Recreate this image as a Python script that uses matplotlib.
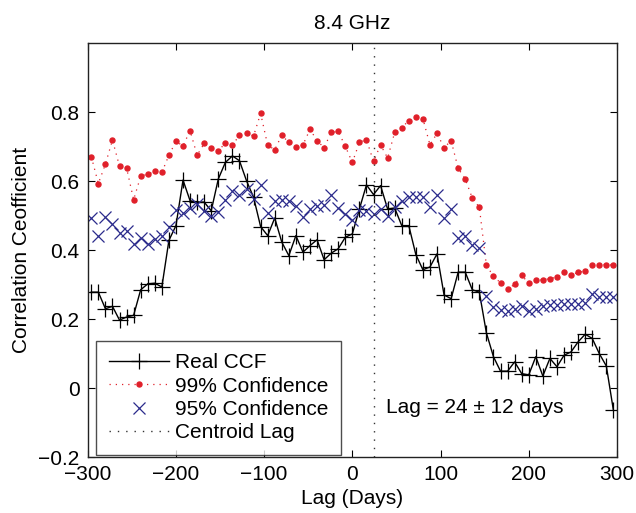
import numpy as np
import matplotlib
matplotlib.use("Agg")
import matplotlib.pyplot as plt

plt.rcParams['font.family'] = ['Liberation Sans', 'DejaVu Sans']

lags = list(range(-296, 297, 8))

real_ccf = [0.278, 0.278, 0.230, 0.237, 0.197, 0.206, 0.211, 0.285, 0.302, 0.304,
            0.293, 0.428, 0.471, 0.603, 0.543, 0.539, 0.539, 0.514, 0.606, 0.654,
            0.673, 0.659, 0.601, 0.553, 0.468, 0.442, 0.493, 0.423, 0.384, 0.442,
            0.394, 0.413, 0.430, 0.372, 0.391, 0.404, 0.437, 0.447, 0.519, 0.589,
            0.561, 0.587, 0.519, 0.522, 0.471, 0.471, 0.387, 0.343, 0.351, 0.389,
            0.270, 0.259, 0.336, 0.336, 0.285, 0.278, 0.160, 0.091, 0.049, 0.049,
            0.076, 0.042, 0.038, 0.091, 0.035, 0.086, 0.062, 0.095, 0.105, 0.134,
            0.156, 0.144, 0.100, 0.064, -0.064]

conf99 = [0.671, 0.593, 0.649, 0.719, 0.643, 0.638, 0.546, 0.614, 0.620, 0.628,
          0.625, 0.675, 0.715, 0.702, 0.746, 0.675, 0.709, 0.697, 0.688, 0.710,
          0.704, 0.733, 0.738, 0.731, 0.796, 0.704, 0.691, 0.733, 0.712, 0.699,
          0.705, 0.750, 0.717, 0.697, 0.741, 0.744, 0.701, 0.654, 0.712, 0.720,
          0.657, 0.705, 0.667, 0.741, 0.755, 0.775, 0.787, 0.781, 0.705, 0.738,
          0.697, 0.717, 0.637, 0.606, 0.551, 0.524, 0.356, 0.324, 0.305, 0.286,
          0.301, 0.327, 0.304, 0.312, 0.314, 0.317, 0.322, 0.336, 0.327, 0.336,
          0.338, 0.356, 0.358, 0.358, 0.356]

conf95 = [0.493, 0.442, 0.495, 0.476, 0.449, 0.455, 0.418, 0.435, 0.418, 0.433,
          0.442, 0.466, 0.517, 0.507, 0.522, 0.534, 0.513, 0.498, 0.510, 0.545,
          0.572, 0.561, 0.577, 0.548, 0.589, 0.507, 0.543, 0.545, 0.543, 0.529,
          0.497, 0.519, 0.529, 0.532, 0.561, 0.522, 0.505, 0.486, 0.516, 0.513,
          0.505, 0.519, 0.500, 0.524, 0.543, 0.553, 0.553, 0.553, 0.526, 0.561,
          0.494, 0.519, 0.435, 0.440, 0.416, 0.407, 0.266, 0.235, 0.227, 0.224,
          0.230, 0.237, 0.224, 0.230, 0.237, 0.240, 0.240, 0.243, 0.245, 0.245,
          0.248, 0.272, 0.264, 0.264, 0.264]

centroid_lag = 24
xticks = [-300, -200, -100, 0, 100, 200, 300]
yticks = [-0.2, 0, 0.2, 0.4, 0.6, 0.8]

fig = plt.figure(figsize=(6.36, 5.13), dpi=100)
ax = fig.add_axes([0.138, 0.109, 0.832, 0.807])

ax.plot(lags, real_ccf, color='black', lw=1.0, marker='+', ms=11, mew=0.9,
        label='Real CCF')
ax.plot(lags, conf99, color='#e0202a', lw=0.9, ls=(0, (1, 4)), marker='o', ms=3.6,
        mec='#e0202a', label='99% Confidence')
ax.plot(lags, conf95, color='#2b2b8c', lw=0, marker='x', ms=8.5, mew=0.9,
        label='95% Confidence')
ax.axvline(centroid_lag, color='#333333', lw=1.0, ls=(0, (1, 5)), label='Centroid Lag')

ax.set_xlim(-300, 300)
ax.set_ylim(-0.2, 1.0)
ax.set_xticks(xticks)
ax.set_yticks(yticks)
ax.set_xticklabels(['\u2212300', '\u2212200', '\u2212100', '0', '100', '200', '300'])
ax.set_yticklabels(['\u22120.2', '0', '0.2', '0.4', '0.6', '0.8'])
ax.tick_params(direction='in', top=True, right=True, labelsize=15, length=5,
               width=0.8, pad=6)
for s in ax.spines.values():
    s.set_linewidth(1.0)
    s.set_color('#222222')

ax.set_title('8.4 GHz', fontsize=15, pad=10)
ax.set_xlabel('Lag (Days)', fontsize=15, labelpad=3)
ax.set_ylabel('Correlation Ceofficient', fontsize=15, labelpad=5)

ax.text(0.563, 0.12, 'Lag = 24 \u00b1 12 days', transform=ax.transAxes,
        fontsize=15, ha='left', va='center')

leg = ax.legend(loc='lower left', bbox_to_anchor=(0.012, 0.0), fontsize=15,
                frameon=True, fancybox=False, borderaxespad=0.1,
                handlelength=2.9, handletextpad=0.3, labelspacing=0.21,
                borderpad=0.6)
leg.get_frame().set_edgecolor('#222222')
leg.get_frame().set_linewidth(1.0)

fig.savefig('out.png', dpi=100)
